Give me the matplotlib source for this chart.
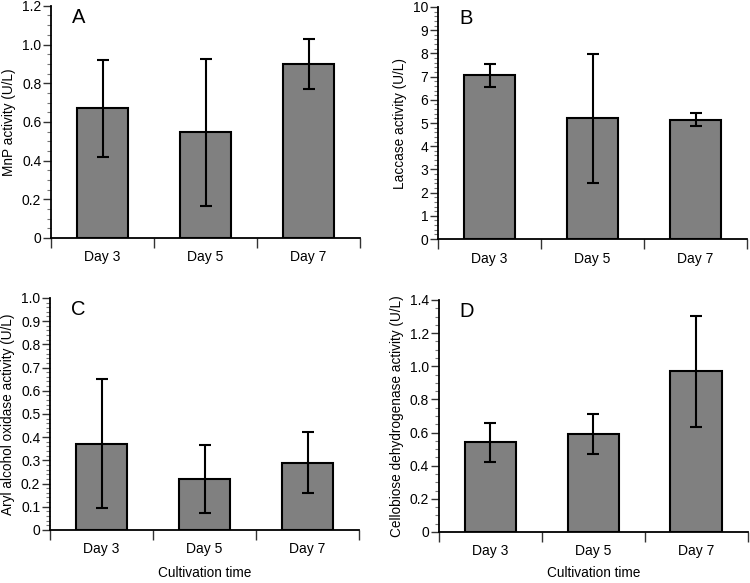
import matplotlib
matplotlib.use("Agg")
import matplotlib.pyplot as plt
from matplotlib.ticker import MultipleLocator, FixedLocator, FuncFormatter

plt.rcParams['font.family'] = ['Liberation Sans', 'DejaVu Sans']

categories = ["Day 3", "Day 5", "Day 7"]

mnp_values = [0.67, 0.545, 0.90]
mnp_errors = [0.25, 0.38, 0.13]

laccase_values = [7.05, 5.2, 5.15]
laccase_errors = [0.48, 2.77, 0.28]

aao_values = [0.372, 0.22, 0.29]
aao_errors = [0.277, 0.147, 0.13]

cdh_values = [0.54, 0.59, 0.97]
cdh_errors = [0.118, 0.122, 0.335]

panels = [
    dict(letter="A", vals=mnp_values, errs=mnp_errors, ylabel="MnP activity (U/L)",
         ymax=1.2, major=0.2, minor=0.05, fmt="{:.1f}", rect=[0.068, 0.592, 0.412, 0.398], xlabel=None),
    dict(letter="B", vals=laccase_values, errs=laccase_errors, ylabel="Laccase activity (U/L)",
         ymax=10, major=1, minor=0.2, fmt="{:.0f}", rect=[0.584, 0.590, 0.412, 0.398], xlabel=None),
    dict(letter="C", vals=aao_values, errs=aao_errors, ylabel="Aryl alcohol oxidase activity (U/L)",
         ymax=1.0, major=0.1, minor=0.02, fmt="{:.1f}", rect=[0.0667, 0.091, 0.412, 0.398], xlabel="Cultivation time"),
    dict(letter="D", vals=cdh_values, errs=cdh_errors, ylabel="Cellobiose dehydrogenase activity (U/L)",
         ymax=1.4, major=0.2, minor=0.05, fmt="{:.1f}", rect=[0.585, 0.0875, 0.412, 0.398], xlabel="Cultivation time"),
]

fig = plt.figure(figsize=(7.5, 5.83), dpi=100)

for p in panels:
    ax = fig.add_axes(p["rect"])
    x = list(range(len(categories)))
    ax.bar(x, p["vals"], width=0.5, color="#808080", edgecolor="black", linewidth=1.5, zorder=2)
    ax.errorbar(x, p["vals"], yerr=p["errs"], fmt="none", ecolor="black", elinewidth=1.5,
                capsize=4, capthick=1.5, zorder=3)
    ax.set_xlim(-0.5, 2.5)
    ax.set_ylim(0, p["ymax"])
    ax.spines["top"].set_visible(False)
    ax.spines["right"].set_visible(False)
    ax.spines["left"].set_linewidth(1.3)
    ax.spines["bottom"].set_linewidth(1.3)
    ax.set_xticks(x)
    ax.set_xticklabels(categories, fontsize=10)
    ax.tick_params(axis="x", which="major", length=0, pad=9)
    ax.xaxis.set_minor_locator(FixedLocator([-0.5, 0.5, 1.5, 2.5]))
    ax.tick_params(axis="x", which="minor", length=7.5, width=1, color="#333333")
    ax.yaxis.set_major_locator(MultipleLocator(p["major"]))
    ax.yaxis.set_minor_locator(MultipleLocator(p["minor"]))
    fmt = p["fmt"]
    ax.yaxis.set_major_formatter(FuncFormatter(lambda v, pos, fmt=fmt: "0" if abs(v) < 1e-9 else fmt.format(v)))
    ax.tick_params(axis="y", which="major", length=6, width=1, labelsize=10, pad=1, color="#333333")
    ax.tick_params(axis="y", which="minor", length=3, width=0.8, color="#777777")
    ax.set_ylabel(p["ylabel"], fontsize=9.8, labelpad=4)
    ax.text(0.09, 0.99, p["letter"], transform=ax.transAxes, fontsize=14.5, va="top", ha="center")
    if p["xlabel"]:
        cx = p["rect"][0] + p["rect"][2] / 2
        fig.text(cx, 0.018, p["xlabel"], fontsize=9.8, ha="center", va="center")

fig.savefig("out.png", dpi=100)
